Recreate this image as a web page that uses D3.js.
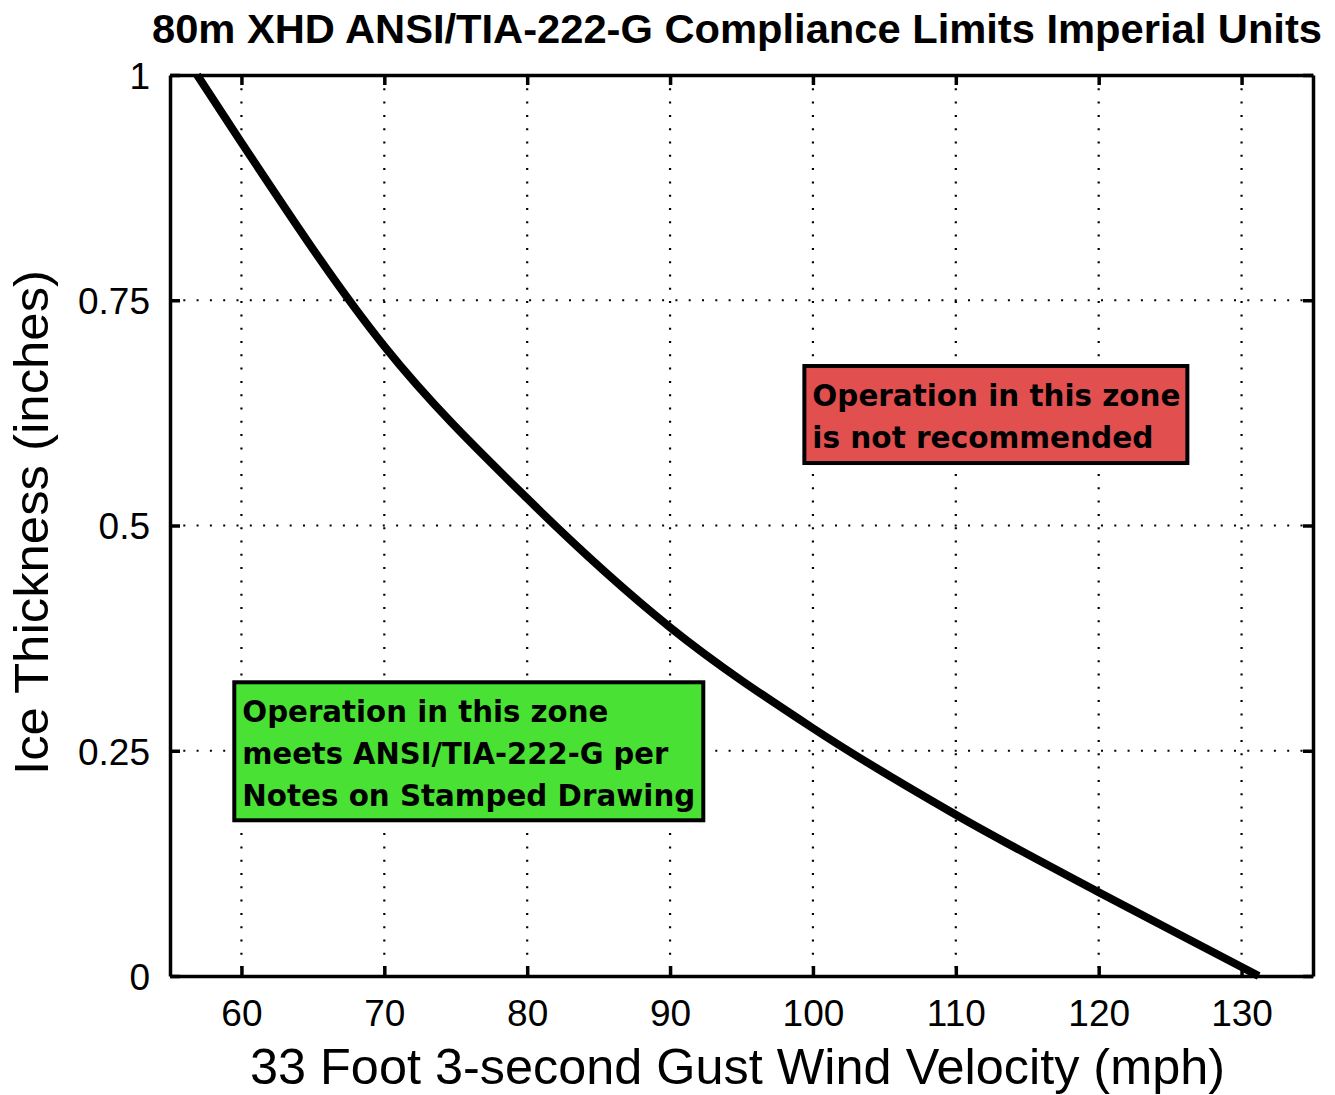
<!DOCTYPE html>
<html>
<head>
<meta charset="utf-8">
<script src="https://cdn.jsdelivr.net/npm/d3@7"></script>
<style>
  body { margin: 0; background: #fff; }
  text { font-family: "Liberation Sans", Arial, sans-serif; }
</style>
</head>
<body>
<svg width="1335" height="1095"></svg>
<script>
// limit curve (mph, inches)
var windSpeed = [56.9, 60, 70, 80, 90, 100, 110, 120, 130, 131.2];
var iceThick  = [1.0, 0.925, 0.699, 0.530, 0.387, 0.275, 0.179, 0.093, 0.01, 0.0];

var xTicks = [60, 70, 80, 90, 100, 110, 120, 130];
var yTicks = [0, 0.25, 0.5, 0.75, 1];
var yTickLabels = ["0", "0.25", "0.5", "0.75", "1"];

var greenLines = ["Operation in this zone", "meets ANSI/TIA-222-G per", "Notes on Stamped Drawing"];
var greenWidths = [366, 426, 453];
var redLines = ["Operation in this zone", "is not recommended"];
var redWidths = [368, 341];

var svg = d3.select("svg"),
    margin = {top: 75, right: 22, bottom: 119, left: 170},
    width = svg.attr("width") - margin.left - margin.right,
    height = svg.attr("height") - margin.top - margin.bottom,
    g = svg.append("g").attr("transform", "translate(" + margin.left + "," + margin.top + ")");

var x = d3.scaleLinear().domain([55, 135]).range([0, width]);
var y = d3.scaleLinear().domain([0, 1]).range([height, 0]);

// dotted grid
g.append("g").selectAll("line")
  .data(xTicks)
  .enter().append("line")
    .attr("x1", function(d) { return x(d); })
    .attr("x2", function(d) { return x(d); })
    .attr("y1", 0).attr("y2", height)
    .attr("stroke", "#000").attr("stroke-width", 2.2)
    .attr("stroke-dasharray", "2,11.3");

g.append("g").selectAll("line")
  .data(yTicks.slice(1, 4))
  .enter().append("line")
    .attr("y1", function(d) { return y(d); })
    .attr("y2", function(d) { return y(d); })
    .attr("x1", 0).attr("x2", width)
    .attr("stroke", "#000").attr("stroke-width", 2.2)
    .attr("stroke-dasharray", "2,11.3");

// axes, ticks pointing inward
var xAxis = g.append("g")
  .attr("transform", "translate(0," + height + ")")
  .call(d3.axisBottom(x).tickValues(xTicks).tickSizeInner(-10).tickSizeOuter(0).tickPadding(24));
var xTop = g.append("g")
  .call(d3.axisTop(x).tickValues(xTicks).tickSizeInner(-10).tickSizeOuter(0).tickFormat(""));
var yAxis = g.append("g")
  .call(d3.axisLeft(y).tickValues(yTicks).tickSizeInner(-10).tickSizeOuter(0).tickPadding(20)
    .tickFormat(function(d, i) { return yTickLabels[i]; }));
var yRight = g.append("g")
  .attr("transform", "translate(" + width + ",0)")
  .call(d3.axisRight(y).tickValues(yTicks).tickSizeInner(-10).tickSizeOuter(0).tickFormat(""));

[xAxis, xTop, yAxis, yRight].forEach(function(a) {
  a.select(".domain").attr("stroke", "#000").attr("stroke-width", 3.5);
  a.selectAll(".tick line").attr("stroke", "#000").attr("stroke-width", 3.5);
  a.selectAll("text").attr("fill", "#000")
    .style("font-family", "'Liberation Sans', Arial, sans-serif")
    .style("font-size", "37px").style("font-weight", "300");
});
xAxis.selectAll(".tick text").attr("dy", "0.71em");
yAxis.selectAll(".tick text").attr("dy", "0.36em");

// curve
var pts = windSpeed.map(function(d, i) { return [d, iceThick[i]]; });
g.append("path")
  .datum(pts)
  .attr("fill", "none")
  .attr("stroke", "#000")
  .attr("stroke-width", 8)
  .attr("d", d3.line()
    .x(function(d) { return x(d[0]); })
    .y(function(d) { return y(d[1]); })
    .curve(d3.curveMonotoneX));

// annotation boxes
function box(x0, y0, w, h, fill, lines, widths) {
  var b = g.append("g").attr("transform", "translate(" + x(x0) + "," + y(y0) + ")");
  b.append("rect")
    .attr("width", w).attr("height", h)
    .attr("fill", fill).attr("stroke", "#000").attr("stroke-width", 4);
  b.selectAll("text")
    .data(lines)
    .enter().append("text")
      .attr("x", 8)
      .attr("y", function(d, i) { return 40 + i * 42; })
      .attr("textLength", function(d, i) { return widths[i]; })
      .attr("lengthAdjust", "spacingAndGlyphs")
      .style("font-family", "'DejaVu Sans', sans-serif")
      .style("font-weight", "bold")
      .style("font-size", "31px")
      .text(function(d) { return d; });
}
box(59.5, 0.326, 469, 138, "#49e234", greenLines, greenWidths);
box(99.4, 0.677, 383, 97, "#e24f4f", redLines, redWidths);

// title and labels
svg.append("text")
  .attr("x", 152).attr("y", 43)
  .attr("textLength", 1170).attr("lengthAdjust", "spacingAndGlyphs")
  .style("font-size", "40px").style("font-weight", "bold")
  .text("80m XHD ANSI/TIA-222-G Compliance Limits Imperial Units");

svg.append("text")
  .attr("x", 250).attr("y", 1084)
  .attr("textLength", 975).attr("lengthAdjust", "spacingAndGlyphs")
  .style("font-size", "50px")
  .text("33 Foot 3-second Gust Wind Velocity (mph)");

svg.append("text")
  .attr("transform", "translate(48,775) rotate(-90)")
  .attr("textLength", 505).attr("lengthAdjust", "spacingAndGlyphs")
  .style("font-size", "48px")
  .text("Ice Thickness (inches)");
</script>
</body>
</html>
